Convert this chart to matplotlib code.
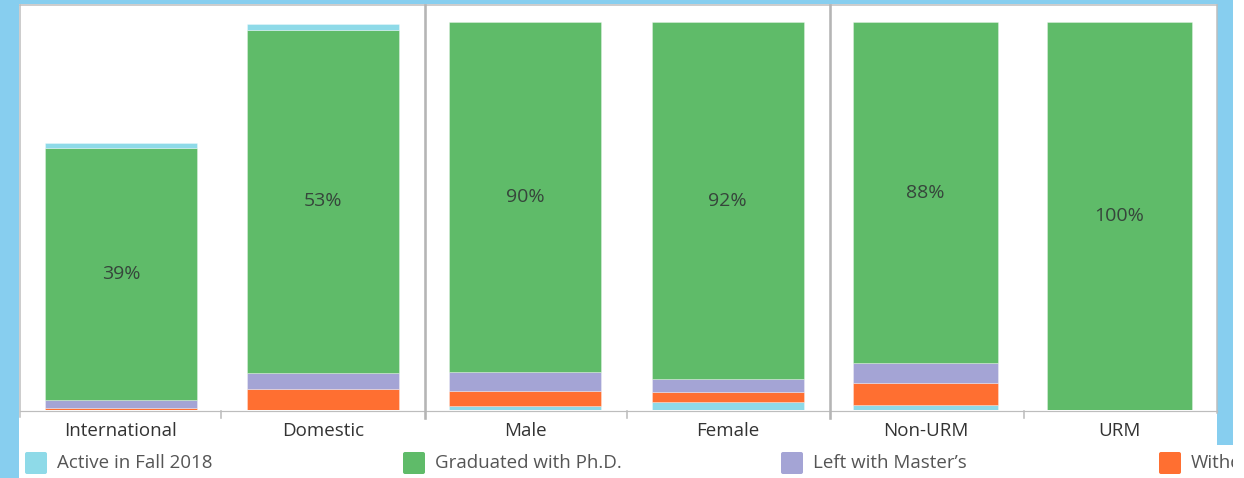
import matplotlib
matplotlib.use("Agg")
import matplotlib.pyplot as plt
import matplotlib.transforms as mtransforms
from matplotlib.patches import Rectangle, FancyBboxPatch

# ---- data -------------------------------------------------------------
categories = ["International", "Domestic", "Male", "Female", "Non-URM", "URM"]
panels = [[0, 1], [2, 3], [4, 5]]          # category indices per panel

active = [0.8, 0.9, 1.0, 2.1, 1.3, 0.0]        # Active in Fall 2018
withdrawn = [0.3, 3.2, 3.9, 2.6, 5.7, 0.0]     # Withdrawn
left_masters = [1.3, 2.6, 5.0, 3.2, 5.0, 0.0]  # Left with Master's
graduated = [39, 53, 90, 92, 88, 100]          # Graduated with Ph.D.

legend_labels = ["Active in Fall 2018", "Graduated with Ph.D.",
                 "Left with Master\u2019s", "Withdrawn"]

# ---- styling ----------------------------------------------------------
C_ACTIVE = "#8EDAE8"
C_GRAD = "#5FBB69"
C_LEFT = "#A4A4D5"
C_WITH = "#FF6F31"
C_FRAME = "#87CEEF"
C_GRID = "#BDBDBD"
FONT = ["Open Sans", "DejaVu Sans"]

series = {
    "active": (active, C_ACTIVE),
    "withdrawn": (withdrawn, C_WITH),
    "left": (left_masters, C_LEFT),
    "grad": (graduated, C_GRAD),
}
# stacking order (bottom -> top) used in each panel
stack_orders = [
    ["withdrawn", "left", "grad", "active"],
    ["active", "withdrawn", "left", "grad"],
    ["active", "withdrawn", "left", "grad"],
]
headroom = [1.05, 1.044, 1.044]

W, H = 1244, 478
fig = plt.figure(figsize=(W / 100, H / 100), dpi=100)
fig.patch.set_facecolor("white")

# background canvas in pixel coordinates
bg = fig.add_axes([0, 0, 1, 1], zorder=0)
bg.set_xlim(0, W)
bg.set_ylim(H, 0)
bg.axis("off")
bg.add_patch(Rectangle((0, 0), 1233, 445, color=C_FRAME, lw=0))
bg.add_patch(Rectangle((0, 0), 19, H, color=C_FRAME, lw=0))
bg.add_patch(Rectangle((19, 4), 1198, H - 4, color="white", lw=0))

px = 0.72  # one pixel in points
bg.plot([19.5, 1216.5], [4.5, 4.5], color=C_GRID, lw=1.5 * px)
bg.plot([19.5, 19.5], [4.5, 417], color=C_GRID, lw=1.5 * px)
bg.plot([1216.5, 1216.5], [4.5, 413], color=C_GRID, lw=1.5 * px)
bg.plot([19.5, 1216.5], [410.5, 410.5], color=C_GRID, lw=1.2 * px)
for xd in (424.5, 829.5):
    bg.plot([xd, xd], [4.5, 418], color="#B5B5B5", lw=2.6 * px)
for xt in (220.5, 626.5, 1023.5):
    bg.plot([xt, xt], [410.5, 418], color=C_GRID, lw=1.6 * px)

# ---- panels -----------------------------------------------------------
panel_px = [(20, 424), (424, 829), (829, 1216)]
top_px, base_px = 5, 410

for p, (idx, order, (x0, x1)) in enumerate(zip(panels, stack_orders, panel_px)):
    ax = fig.add_axes([x0 / W, (H - base_px) / H, (x1 - x0) / W,
                       (base_px - top_px) / H], zorder=2)
    ax.patch.set_alpha(0)
    for s in ax.spines.values():
        s.set_visible(False)
    ax.set_xticks([])
    ax.set_yticks([])
    ax.set_xlim(-0.5, len(idx) - 0.5)
    totals = [sum(series[k][0][i] for k in order) for i in idx]
    ax.set_ylim(0, max(totals) * headroom[p])

    for j, i in enumerate(idx):
        bottom = 0.0
        for key in order:
            vals, col = series[key]
            v = vals[i]
            if v > 0:
                ax.bar(j, v, bottom=bottom, width=0.75, color=col,
                       edgecolor=(1, 1, 1, 0.35), linewidth=0.6)
            if key == "grad":
                ax.text(j, bottom + v / 2, f"{v:.0f}%", ha="center",
                        va="center", fontsize=14, color="#36453B",
                        family=FONT)
            bottom += v
        trans = mtransforms.blended_transform_factory(ax.transData,
                                                      ax.transAxes)
        ax.text(j, -(431 - base_px) / (base_px - top_px), categories[i],
                transform=trans, ha="center", va="center", fontsize=13.5,
                color="#333333", family=FONT)

# ---- legend (the strip is cut at the right edge of the dashboard) -----
legend_box = mtransforms.TransformedBbox(
    mtransforms.Bbox([[0, 440], [1233, 478]]), bg.transData)
legend_colors = [C_ACTIVE, C_GRAD, C_LEFT, C_WITH]
for k, (lab, col) in enumerate(zip(legend_labels, legend_colors)):
    lx = 24 + 378 * k
    bg.add_patch(FancyBboxPatch((lx + 1, 452), 22, 22,
                                boxstyle="round,pad=0,rounding_size=2",
                                facecolor=col, edgecolor="none"))
    t = bg.text(lx + 33, 463.5, lab, ha="left", va="center", fontsize=13.5,
                color="#555555", family=FONT)
    t.set_clip_box(legend_box)
    t.set_clip_path(None)
    t.set_clip_on(True)

fig.savefig("out.png", dpi=100, facecolor=fig.get_facecolor())
